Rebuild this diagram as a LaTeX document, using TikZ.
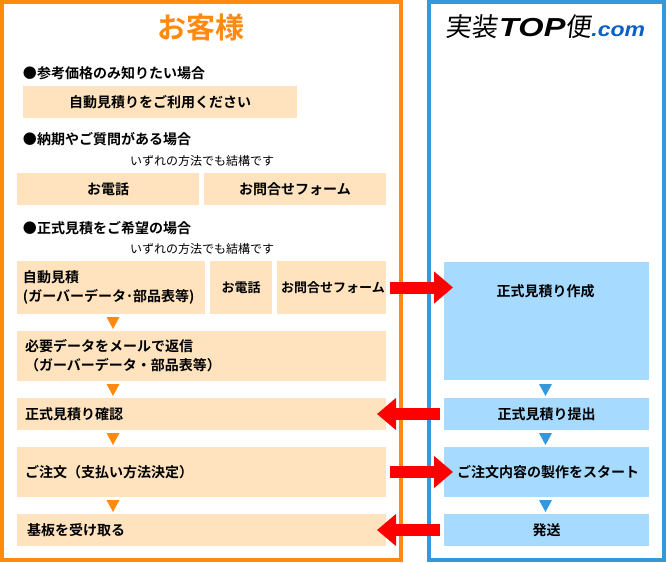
\documentclass[tikz,border=0pt]{standalone}
\usepackage{fontspec}
\usepackage{xcolor}
\usetikzlibrary{positioning}
\usetikzlibrary{shapes.geometric,arrows.meta}
\setmainfont{Noto Sans CJK JP}[BoldFont={Noto Sans CJK JP Bold}]
\newfontfamily\logokanji{Noto Sans CJK JP}[FakeSlant=0.12]
\newfontfamily\logotop{Liberation Sans}[BoldItalicFont={Liberation Sans Bold Italic},FakeStretch=1.25]
\newfontfamily\logolatin{Liberation Sans}[BoldItalicFont={Liberation Sans Bold Italic},FakeStretch=1.15]
\definecolor{FrameOrange}{HTML}{FF8A0F}
\definecolor{FrameBlue}{HTML}{3498DB}
\definecolor{BoxOrange}{HTML}{FEE3BE}
\definecolor{BoxBlue}{HTML}{A6DAFF}
\definecolor{LogoBlue}{HTML}{0A5FC8}
\begin{document}
\begin{tikzpicture}[x=1pt, y=-1pt,
		label/.style={inner sep=0, outer sep=0, font=\fontsize{14}{19}\selectfont\bfseries, align=left},
		note/.style={inner sep=0, outer sep=0, font=\fontsize{12}{14}\selectfont},
		obox/.style={fill=BoxOrange, inner sep=0, outer sep=0, font=\fontsize{14}{19}\selectfont\bfseries, align=center},
		bbox/.style={fill=BoxBlue, inner sep=0, outer sep=0, font=\fontsize{14}{19}\selectfont\bfseries, align=center, minimum width=205pt},
		step box/.style={obox, minimum height=#1, text width=353pt, inner xsep=8pt, align=left},
		otri/.style={isosceles triangle, isosceles triangle stretches, shape border rotate=-90, minimum width=13pt, minimum height=12pt, inner sep=0, outer sep=0, fill=FrameOrange, anchor=apex},
		btri/.style={otri, fill=FrameBlue},
		flow/.style={-{Triangle[length=19pt,width=31pt]}, line width=12pt, red, shorten <=4pt, shorten >=-9pt}]
	\useasboundingbox (0,0) rectangle (666,562);
	\draw[FrameOrange, line width=4pt] (2,2) rectangle (401,560);
	\draw[FrameBlue, line width=4pt] (429,2) rectangle (664,560);

	\node[font=\fontsize{29}{30}\selectfont\bfseries, text=FrameOrange] (Customer) at (200.5,27) {お客様};
	\node[anchor=west, inner sep=0] (Logo) at (445,27) {\logokanji\fontsize{26}{28}\selectfont 実装\kern2pt\logotop\bfseries\itshape TOP\logokanji\mdseries\upshape 便\logolatin\bfseries\itshape\fontsize{20}{28}\selectfont\textcolor{LogoBlue}{.com}};

	\node[label, anchor=west] (Quote) at (23,73) {●参考価格のみ知りたい場合};
	\node[obox, anchor=north west, minimum width=274pt, minimum height=32pt] (Auto) at (23,86) {自動見積りをご利用ください};

	\node[label, anchor=west] (Ask) at (23,139) {●納期やご質問がある場合};
	\node[note] (AskNote) at (202,161) {いずれの方法でも結構です};
	\node[obox, anchor=north west, minimum width=182pt, minimum height=32pt] (AskTel) at (17,173) {お電話};
	\node[obox, anchor=north west, minimum width=182pt, minimum height=32pt] (AskForm) at (204,173) {お問合せフォーム};

	\node[label, anchor=west] (Order) at (23,228) {●正式見積をご希望の場合};
	\node[note] (OrderNote) at (202,249) {いずれの方法でも結構です};
	\node[obox, anchor=north west, minimum width=188pt, minimum height=53pt, text width=176pt, align=left] (OrderAuto) at (17,261) {自動見積\\(ガーバーデータ･部品表等)};
	\node[obox, anchor=north west, minimum width=62pt, minimum height=53pt, font=\fontsize{13}{19}\selectfont\bfseries] (OrderTel) at (210,261) {お電話};
	\node[obox, anchor=north west, minimum width=109pt, minimum height=53pt, font=\fontsize{13}{19}\selectfont\bfseries] (OrderForm) at (277,261) {\hspace{3pt}お問合せフォーム};

	\node[step box=50pt, anchor=north west] (Reply) at (17,331) {必要データをメールで返信\\（ガーバーデータ・部品表等）};
	\node[step box=32pt, below=17pt of Reply] (Confirm) {正式見積り確認};
	\node[step box=50pt, below=17pt of Confirm] (Pay) {ご注文（支払い方法決定）};
	\node[step box=32pt, below=17pt of Pay] (Receive) {\hspace{2pt}基板を受け取る};

	\node[bbox, anchor=north west, minimum height=118pt] (Make) at (444,262) {};
	\node[font=\fontsize{14}{19}\selectfont\bfseries, inner sep=0] (MakeText) at (545.5,291) {正式見積り作成};
	\node[bbox, minimum height=32pt, below=18pt of Make] (Submit) {正式見積り提出};
	\node[bbox, minimum height=50pt, below=17pt of Submit] (Start) {\hspace{3pt}ご注文内容の製作をスタート};
	\node[bbox, minimum height=32pt, below=17pt of Start] (Ship) {発送};

	\node[otri] (Tri1) at (113,329) {};
	\node[otri] (Tri2) at (113,396) {};
	\node[otri] (Tri3) at (113,445) {};
	\node[otri] (Tri4) at (113,512) {};
	\node[btri] (Tri5) at (545.5,396) {};
	\node[btri] (Tri6) at (545.5,445) {};
	\node[btri] (Tri7) at (545.5,512) {};

	\draw[flow] (OrderForm.east) -- (OrderForm.east -| Make.west);
	\draw[flow] (Submit.west) -- (Confirm.east);
	\draw[flow] (Pay.east) -- (Start.west);
	\draw[flow] (Ship.west) -- (Receive.east);
\end{tikzpicture}
\end{document}
